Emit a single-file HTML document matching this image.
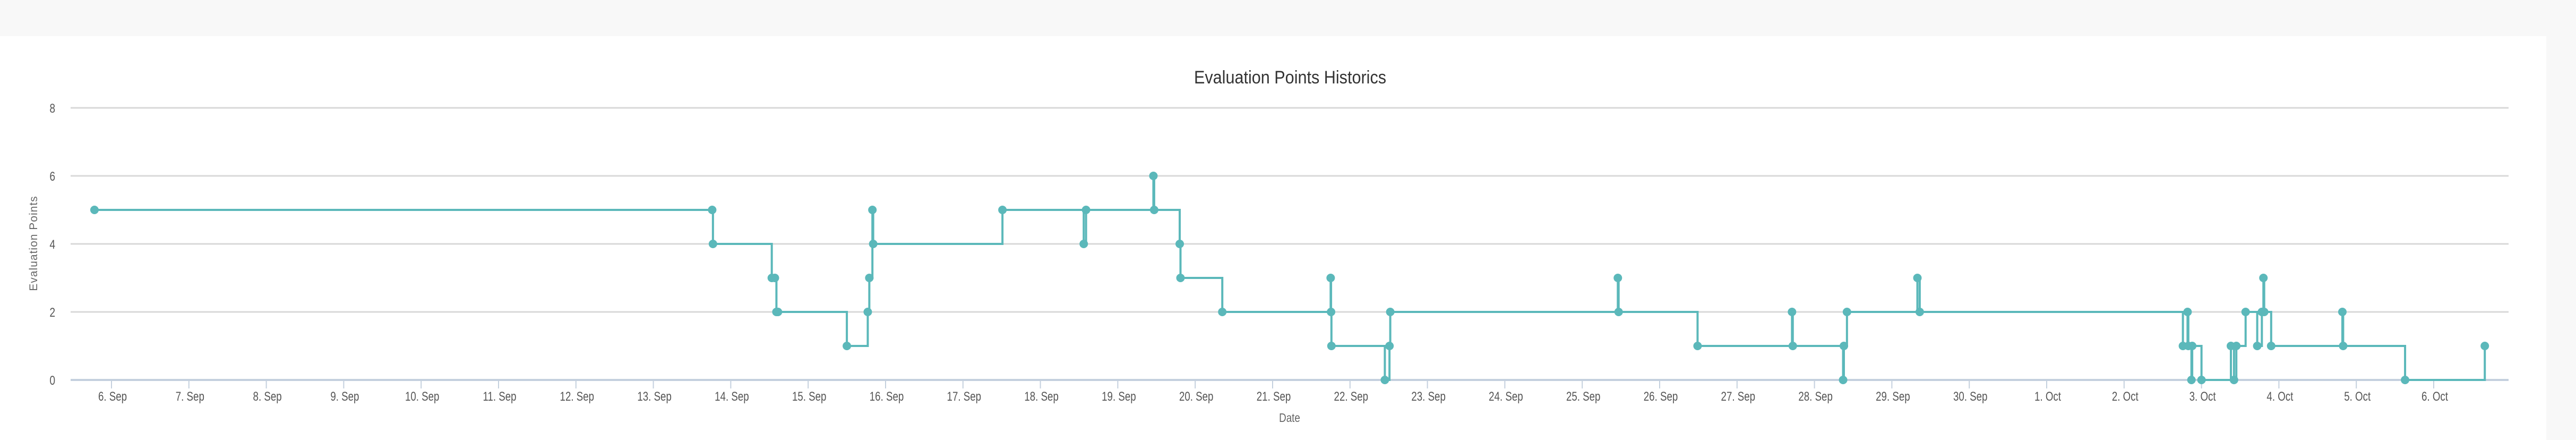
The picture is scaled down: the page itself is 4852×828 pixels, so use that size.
<!DOCTYPE html>
<html>
<head>
<meta charset="utf-8">
<style>
  html,body{margin:0;padding:0;background:#f8f8f8;}
  body{width:4852px;height:828px;position:relative;overflow:hidden;font-family:"Liberation Sans",sans-serif;}
  #card{position:absolute;left:0;top:68px;width:4796px;height:760px;background:#fff;}
  svg{position:absolute;left:0;top:0;}
</style>
</head>
<body>
<div id="card"></div>
<svg id="chart" width="4852" height="828">
  <text transform="translate(2430,157) scale(0.9,1)" text-anchor="middle" font-size="34" fill="#333">Evaluation Points Historics</text>
  <g id="grid"></g>
  <g id="yticks"></g>
  <g id="xticks"></g>
  <text transform="translate(70,458) rotate(-90)" text-anchor="middle" font-size="21" fill="#666" letter-spacing="1">Evaluation Points</text>
  <text transform="translate(2429,794) scale(0.82,1)" text-anchor="middle" font-size="23" fill="#666">Date</text>
  <g id="series"></g>
</svg>
<script>
// Data: x = days since 6 Sep 00:00, y = evaluation points
const dayOffsets = [-0.22,7.76,7.77,8.53,8.57,8.59,8.61,9.50,9.77,9.79,9.83,9.84,11.51,12.56,12.59,13.46,13.47,13.80,13.81,14.35,15.75,15.755,15.76,16.45,16.51,16.52,19.46,19.47,20.49,21.71,21.72,22.37,22.38,22.42,23.33,23.36,26.76,26.82,26.83,26.87,26.88,27.00,27.38,27.42,27.45,27.57,27.72,27.78,27.80,27.81,27.90,28.82,28.83,29.63,30.66];
const pointValues = [5,5,4,3,3,2,2,1,2,3,5,4,5,4,5,6,5,4,3,2,3,2,1,0,1,2,3,2,1,2,1,0,1,2,3,2,1,2,1,0,1,0,1,0,1,2,1,2,3,2,1,2,1,0,1];
const yTicks = [0,2,4,6,8];
const xTickLabels = ["6. Sep","7. Sep","8. Sep","9. Sep","10. Sep","11. Sep","12. Sep","13. Sep","14. Sep","15. Sep","16. Sep","17. Sep","18. Sep","19. Sep","20. Sep","21. Sep","22. Sep","23. Sep","24. Sep","25. Sep","26. Sep","27. Sep","28. Sep","29. Sep","30. Sep","1. Oct","2. Oct","3. Oct","4. Oct","5. Oct","6. Oct"];

const NS="http://www.w3.org/2000/svg";
const plotL=133, plotR=4725, y0=715, y8=203;
const xAt=d=>210+d*145.8;
const yAt=v=>y0-(y0-y8)*v/8;
function mk(tag,attrs,parent){const e=document.createElementNS(NS,tag);for(const k in attrs)e.setAttribute(k,attrs[k]);parent.appendChild(e);return e;}

const grid=document.getElementById('grid'), yt=document.getElementById('yticks'), xt=document.getElementById('xticks'), ser=document.getElementById('series');
yTicks.forEach(v=>{
  const l=mk('line',{x1:plotL,x2:plotR,y1:yAt(v),y2:yAt(v),stroke:v===0?'#c4d0de':'#d8d8d8','stroke-width':v===0?4:3},grid);
  
  
  const t=mk('text',{transform:'translate(104,'+(yAt(v)+9)+') scale(0.8,1)','text-anchor':'end','font-size':24,fill:'#555'},yt);
  t.textContent=v;
  
  
});
xTickLabels.forEach((lab,i)=>{
  const x=xAt(i);
  const tk=mk('line',{x1:x,x2:x,y1:y0,y2:y0+16,stroke:'#c4d0de','stroke-width':2},xt);
  
  
  const t=mk('text',{transform:'translate('+(x+2)+',754) scale(0.78,1)','text-anchor':'middle','font-size':24,fill:'#555'},xt);
  t.textContent=lab;
  
  
});
let d='';
dayOffsets.forEach((dd,i)=>{
  const x=xAt(dd), y=yAt(pointValues[i]);
  if(i===0) d+='M'+x+' '+y;
  else d+=' H'+x+' V'+y;
});
const path=mk('path',{d:d,fill:'none',stroke:'#5bb8ba','stroke-width':4,'stroke-linejoin':'miter'},ser);


dayOffsets.forEach((dd,i)=>{
  const c=mk('circle',{cx:xAt(dd),cy:yAt(pointValues[i]),r:8,fill:'#5bb8ba'},ser);
  
  
});
</script>
</body>
</html>
